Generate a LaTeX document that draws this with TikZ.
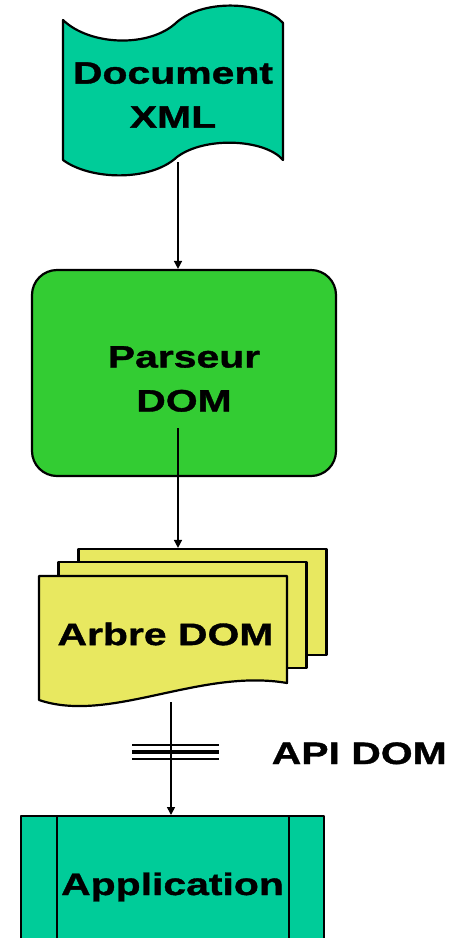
\documentclass[tikz,border=0pt]{standalone}
\usepackage{fontspec}
\newfontfamily\diagfont[FakeStretch=1.32, FakeBold=1.2]{Liberation Sans}
\usepackage{xcolor}
\usepackage{tikz}
\usetikzlibrary{
    positioning,
    arrows.meta,
    calc
}
\definecolor{tealdoc}{HTML}{00CC99}
\definecolor{parsgreen}{HTML}{33CC33}
\definecolor{pageyellow}{HTML}{E8E860}
\tikzset{
    big_text/.style={
        font=\diagfont\bfseries\fontsize{31pt}{44pt}\selectfont,
        align=center, text=black, inner sep=0pt
    },
    outline/.style={
        draw=black, line width=2.2pt, line join=round
    },
    arrow/.style={
        -{Triangle[length=8pt,width=8pt]}, line width=1.6pt, draw=black
    }
}

\begin{document}
\begin{tikzpicture}[
        x=1pt, y=-1pt,
        doc_tape/.style={outline, fill=tealdoc},
        alt_box/.style={outline, fill=parsgreen, rounded corners=25pt, minimum width=304pt, minimum height=206pt},
        page_box/.style={outline, fill=pageyellow, minimum width=248pt, minimum height=106pt},
        proc_box/.style={outline, fill=tealdoc, minimum width=303pt, minimum height=170pt}
    ]

        % Frame
        \useasboundingbox (0,0) rectangle (450,938);
        \clip (0,0) rectangle (450,938);

        % Document XML
        \draw[doc_tape] (63,20) .. controls (90,46) and (150,48) .. (177,22)
            .. controls (205,-2) and (265,2) .. (283,23) -- (283,160)
            .. controls (265,139) and (205,136) .. (177,157)
            .. controls (150,182) and (90,180) .. (63,160) -- cycle;
        \node[big_text] (doc_xml) at (173,95) {Document\\XML};
        \coordinate (doc_bot) at (178,162);

        % Parseur DOM
        \node[alt_box] (parseur) at (184,373) {};
        \node[big_text] (pars_text) at (184,379) {Parseur\\DOM};
        \coordinate (pars_bot) at (178,428);

        % Arbre DOM
        \node[page_box] (arbre_back) at (202.5,602) {};
        \node[page_box] (arbre_mid) at ([shift={(-20,13)}]arbre_back.center) {};
        \draw[outline, fill=pageyellow] (39,576) -- (287,576) -- (287,683)
            .. controls (200,668) and (110,724) .. (39,700) -- cycle;
        \node[big_text] (arbre) at (165.5,634) {Arbre DOM};
        \coordinate (arbre_bot) at (171,702);

        % Application
        \node[proc_box, anchor=north] (app) at (172.5,815) {};
        \draw[outline] ([xshift=37pt]app.north west) -- ([xshift=37pt]app.south west);
        \draw[outline] ([xshift=-36pt]app.north east) -- ([xshift=-36pt]app.south east);
        \node[big_text] (app_text) at (172.5,887) {Application};

        % Arrows
        \draw[arrow] (doc_bot) -- (doc_bot |- parseur.north);
        \draw[arrow] (pars_bot) -- (pars_bot |- arbre_back.north);
        \draw[arrow] (arbre_bot) -- (arbre_bot |- app.north);

        % API DOM
        \coordinate (api) at (175.5,752);
        \draw[line width=1.6pt] ($(api)+(-43.5,-7)$) -- ($(api)+(43.5,-7)$);
        \draw[line width=4.5pt] ($(api)+(-43.5,0)$) -- ($(api)+(43.5,0)$);
        \draw[line width=1.6pt] ($(api)+(-43.5,7)$) -- ($(api)+(43.5,7)$);
        \node[big_text, anchor=base east] (api_label) at (447,764) {API DOM};

    \end{tikzpicture}
\end{document}
